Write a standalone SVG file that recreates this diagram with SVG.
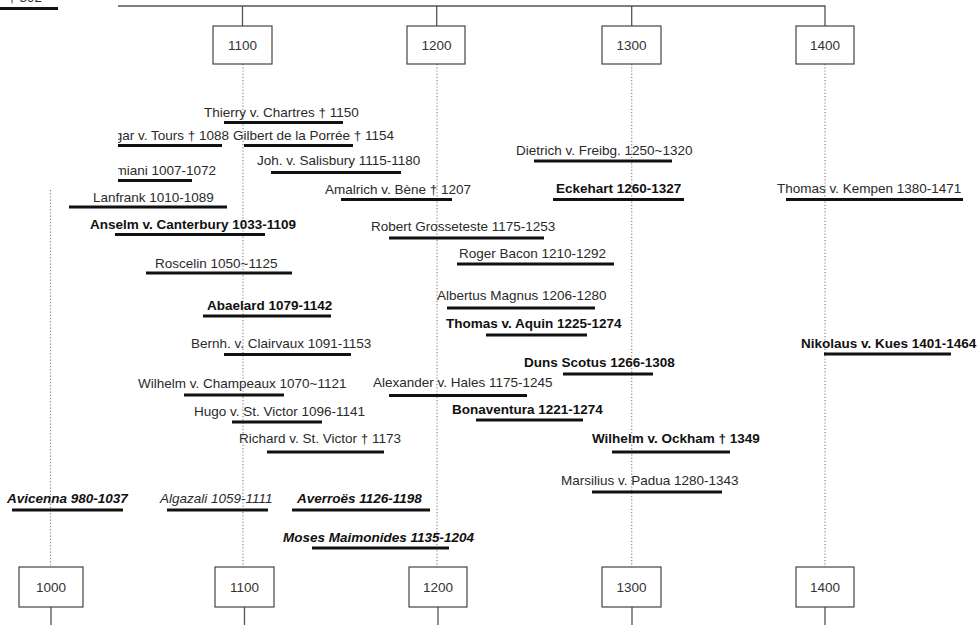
<svg xmlns="http://www.w3.org/2000/svg" width="977" height="625" viewBox="0 0 977 625">
<style>
.bg{fill:#fff}
.box{fill:#fff;stroke:#444;stroke-width:1.2}
.yr{font-family:"Liberation Sans",Arial,sans-serif;font-size:13.5px;fill:#333;text-anchor:middle}
.t{font-family:"Liberation Sans",Arial,sans-serif;font-size:13.5px;fill:#2a2a2a}
.b{font-weight:bold;fill:#111}
.i{font-style:italic}
.ul{stroke:#111;stroke-width:3}
.con{stroke:#555;stroke-width:1.3;fill:none}
.dot{stroke:#888;stroke-width:1.2;stroke-dasharray:1.2 2;fill:none}
</style>
<defs>
<clipPath id="cut"><rect x="118" y="0" width="900" height="625"/></clipPath>
</defs>
<rect class="bg" width="977" height="625"/>
<g id="connectors">
<path class="con" d="M118 6H825V26M242.5 6V26M436.7 6V26M631.7 6V26"/>
<path class="dot" d="M50.5 190V567M243 64V567M437 64V567M631.7 64V567M825 64V567"/>
<path class="con" d="M51 607V625M244.5 607V625M438 607V625M632 607V625M825 607V625"/>
</g>
<g id="year-top-1100"><rect class="box" x="213" y="26" width="59" height="38"/><text class="yr" x="242.5" y="49.5">1100</text></g>
<g id="year-top-1200"><rect class="box" x="407" y="26" width="58" height="38"/><text class="yr" x="436.5" y="49.5">1200</text></g>
<g id="year-top-1300"><rect class="box" x="602" y="26" width="59" height="38"/><text class="yr" x="631.5" y="49.5">1300</text></g>
<g id="year-top-1400"><rect class="box" x="796" y="26" width="58" height="38"/><text class="yr" x="825" y="49.5">1400</text></g>
<g id="year-bot-1000"><rect class="box" x="19" y="567" width="64" height="40"/><text class="yr" x="51" y="591.5">1000</text></g>
<g id="year-bot-1100"><rect class="box" x="215" y="567" width="59" height="40"/><text class="yr" x="244.5" y="591.5">1100</text></g>
<g id="year-bot-1200"><rect class="box" x="409" y="567" width="58" height="40"/><text class="yr" x="438" y="591.5">1200</text></g>
<g id="year-bot-1300"><rect class="box" x="602" y="567" width="59" height="40"/><text class="yr" x="631.5" y="591.5">1300</text></g>
<g id="year-bot-1400"><rect class="box" x="796" y="567" width="58" height="40"/><text class="yr" x="825" y="591.5">1400</text></g>

<g id="p-892"><text class="t" x="42" y="2" text-anchor="end">† 892</text><line class="ul" x1="0" y1="8.5" x2="58" y2="8.5"/></g>
<g id="p-thierry"><text class="t" x="204" y="117">Thierry v. Chartres † 1150</text><line class="ul" x1="224" y1="122.5" x2="343" y2="122.5"/></g>
<g id="p-berengar" clip-path="url(#cut)"><text class="t" x="229" y="140" text-anchor="end">Berengar v. Tours † 1088</text><line class="ul" x1="100" y1="145.5" x2="222" y2="145.5"/></g>
<g id="p-gilbert"><text class="t" x="233" y="140">Gilbert de la Porrée † 1154</text><line class="ul" x1="244" y1="145.5" x2="353" y2="145.5"/></g>
<g id="p-damiani" clip-path="url(#cut)"><text class="t" x="216" y="175" text-anchor="end">Petrus Damiani 1007-1072</text><line class="ul" x1="100" y1="180.5" x2="192" y2="180.5"/></g>
<g id="p-joh"><text class="t" x="257" y="165">Joh. v. Salisbury 1115-1180</text><line class="ul" x1="271" y1="172.5" x2="401" y2="172.5"/></g>
<g id="p-dietrich"><text class="t" x="516" y="155">Dietrich v. Freibg. 1250~1320</text><line class="ul" x1="534" y1="161" x2="672" y2="161"/></g>
<g id="p-lanfrank"><text class="t" x="93" y="202">Lanfrank 1010-1089</text><line class="ul" x1="69" y1="207" x2="227" y2="207"/></g>
<g id="p-amalrich"><text class="t" x="325" y="194">Amalrich v. Bène † 1207</text><line class="ul" x1="341" y1="199.5" x2="452" y2="199.5"/></g>
<g id="p-eckehart"><text class="t b" x="556" y="193">Eckehart 1260-1327</text><line class="ul" x1="553" y1="199.5" x2="684" y2="199.5"/></g>
<g id="p-kempen"><text class="t" x="777" y="193">Thomas v. Kempen 1380-1471</text><line class="ul" x1="786" y1="199.5" x2="963" y2="199.5"/></g>
<g id="p-anselm"><text class="t b" x="90" y="229">Anselm v. Canterbury 1033-1109</text><line class="ul" x1="115" y1="234.5" x2="265" y2="234.5"/></g>
<g id="p-grosseteste"><text class="t" x="371" y="231">Robert Grosseteste 1175-1253</text><line class="ul" x1="389" y1="238" x2="544" y2="238"/></g>
<g id="p-bacon"><text class="t" x="459" y="258">Roger Bacon 1210-1292</text><line class="ul" x1="457" y1="264" x2="614" y2="264"/></g>
<g id="p-roscelin"><text class="t" x="155" y="268">Roscelin 1050~1125</text><line class="ul" x1="146" y1="273" x2="292" y2="273"/></g>
<g id="p-albertus"><text class="t" x="437" y="300">Albertus Magnus 1206-1280</text><line class="ul" x1="447" y1="308" x2="595" y2="308"/></g>
<g id="p-abaelard"><text class="t b" x="207" y="310">Abaelard 1079-1142</text><line class="ul" x1="203" y1="316" x2="331" y2="316"/></g>
<g id="p-aquin"><text class="t b" x="446" y="328">Thomas v. Aquin 1225-1274</text><line class="ul" x1="486" y1="335" x2="587" y2="335"/></g>
<g id="p-bernhard"><text class="t" x="191" y="348">Bernh. v. Clairvaux 1091-1153</text><line class="ul" x1="224" y1="354.5" x2="351" y2="354.5"/></g>
<g id="p-kues"><text class="t b" x="801" y="348">Nikolaus v. Kues 1401-1464</text><line class="ul" x1="824" y1="354" x2="951" y2="354"/></g>
<g id="p-scotus"><text class="t b" x="524" y="367">Duns Scotus 1266-1308</text><line class="ul" x1="563" y1="374" x2="653" y2="374"/></g>
<g id="p-champeaux"><text class="t" x="138" y="388">Wilhelm v. Champeaux 1070~1121</text><line class="ul" x1="184" y1="395" x2="284" y2="395"/></g>
<g id="p-hales"><text class="t" x="373" y="387">Alexander v. Hales 1175-1245</text><line class="ul" x1="389" y1="395.5" x2="527" y2="395.5"/></g>
<g id="p-bonaventura"><text class="t b" x="452" y="414">Bonaventura 1221-1274</text><line class="ul" x1="476" y1="420" x2="583" y2="420"/></g>
<g id="p-hugo"><text class="t" x="194" y="416">Hugo v. St. Victor 1096-1141</text><line class="ul" x1="232" y1="422" x2="322" y2="422"/></g>
<g id="p-richard"><text class="t" x="239" y="443">Richard v. St. Victor † 1173</text><line class="ul" x1="267" y1="452" x2="384" y2="452"/></g>
<g id="p-ockham"><text class="t b" x="592" y="443">Wilhelm v. Ockham † 1349</text><line class="ul" x1="612" y1="452" x2="730" y2="452"/></g>
<g id="p-marsilius"><text class="t" x="561" y="485">Marsilius v. Padua 1280-1343</text><line class="ul" x1="592" y1="492" x2="722" y2="492"/></g>
<g id="p-avicenna"><text class="t b i" x="7" y="503">Avicenna 980-1037</text><line class="ul" x1="12" y1="510" x2="123" y2="510"/></g>
<g id="p-algazali"><text class="t i" x="160" y="503">Algazali 1059-1111</text><line class="ul" x1="167" y1="510" x2="268" y2="510"/></g>
<g id="p-averroes"><text class="t b i" x="297" y="503">Averroës 1126-1198</text><line class="ul" x1="292" y1="510" x2="430" y2="510"/></g>
<g id="p-maimonides"><text class="t b i" x="283" y="542">Moses Maimonides 1135-1204</text><line class="ul" x1="312" y1="548" x2="449" y2="548"/></g>
</svg>
